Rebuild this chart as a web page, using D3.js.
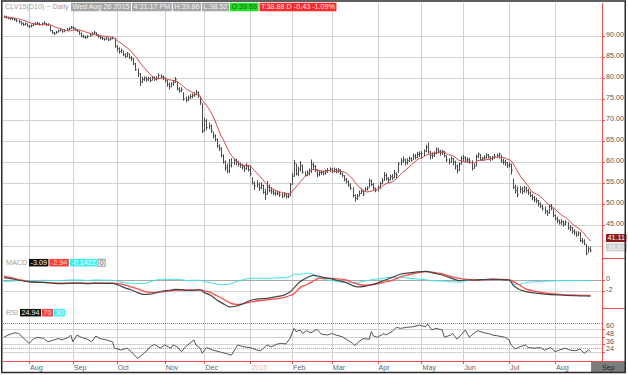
<!DOCTYPE html>
<html><head><meta charset="utf-8">
<script src="https://cdn.jsdelivr.net/npm/d3@7"></script>
<style>body{margin:0;background:#fff;}svg{display:block;font-family:"Liberation Sans",Arial,sans-serif;}</style>
</head><body><svg id="c" width="628" height="375"></svg>
<script>
// ---------- DATA ----------
const closes=[
94.6,94.4,94.3,94.1,94.2,93.9,93.6,93.4,93.0,92.7,
92.9,92.4,92.2,92.5,92.8,92.9,93.0,92.7,92.9,93.0,
92.6,92.8,91.3,90.8,90.6,90.9,91.2,91.5,91.0,91.3,
91.6,91.8,92.0,91.9,91.4,91.2,90.6,90.0,89.8,89.6,
89.9,90.2,90.5,90.8,90.3,89.9,89.6,89.4,89.2,89.5,
89.1,89.3,89.6,87.5,87.0,86.3,86.6,85.6,85.2,85.8,
84.9,84.6,83.4,82.0,81.0,79.0,79.6,80.0,79.6,79.9,
79.4,80.1,79.7,80.0,80.6,80.3,80.0,79.5,78.4,77.9,
78.6,79.0,79.6,77.4,77.0,77.2,75.0,74.8,75.3,75.6,
75.8,76.1,76.6,75.9,74.2,67.4,69.8,68.2,68.6,67.4,
66.2,65.4,63.8,63.3,61.5,60.0,58.6,57.9,59.2,59.8,
60.3,59.9,59.5,59.3,58.8,58.4,59.0,58.2,57.2,55.0,
54.4,54.7,53.8,54.4,52.8,52.3,54.0,53.2,52.9,52.6,
52.4,52.6,52.2,51.9,52.3,51.8,51.9,54.6,56.6,59.6,
57.2,58.3,59.1,57.6,56.9,57.3,57.9,59.4,59.0,58.2,
57.0,57.5,57.5,57.2,57.8,58.0,58.3,57.8,58.2,57.9,
58.1,57.2,56.8,55.8,55.3,54.5,53.8,52.0,51.3,51.8,
52.5,53.0,52.4,53.5,53.8,55.5,54.6,53.8,53.2,54.0,
54.8,55.5,56.8,56.0,55.8,56.5,56.2,57.2,56.9,59.5,
60.2,60.5,59.8,60.3,60.8,60.4,61.4,61.0,61.8,62.0,
62.0,62.6,63.5,62.4,61.6,61.5,62.0,63.0,62.6,62.2,
62.5,61.5,60.5,60.0,60.8,60.0,59.0,58.0,59.5,60.8,
61.0,60.5,60.5,60.2,58.5,59.0,61.3,61.8,60.6,60.9,
61.0,61.6,61.2,60.8,61.0,61.4,61.6,61.9,60.2,60.0,
59.8,59.2,59.5,58.0,54.0,53.2,52.3,53.5,53.0,53.8,
53.2,52.8,52.0,51.5,51.0,50.8,50.0,49.5,49.0,48.3,
47.9,49.4,49.0,47.2,46.5,46.0,45.5,45.8,45.2,45.6,
44.3,44.4,43.5,43.3,42.6,43.1,41.3,41.1,40.5,38.2,
39.3,38.88];
const highs=[
94.9,94.8,94.6,94.5,94.4,94.3,94.0,93.8,93.5,93.2,
93.2,93.0,92.6,92.8,93.1,93.3,93.4,93.2,93.2,93.5,
93.1,93.0,92.6,91.4,91.0,91.2,91.5,91.8,91.6,91.6,
91.9,92.1,92.4,92.3,92.0,91.6,91.3,90.8,90.3,90.1,
90.2,90.5,90.9,91.2,90.9,90.4,90.0,89.8,89.6,89.8,
89.6,89.6,89.9,89.6,87.8,87.3,87.0,86.5,85.9,86.2,
85.8,85.2,84.7,83.6,82.3,81.2,80.3,80.4,80.3,80.3,
80.2,80.5,80.4,80.4,81.1,80.9,80.6,80.2,79.6,78.9,
79.0,79.4,80.2,79.2,77.8,77.8,76.6,75.6,75.8,76.2,
76.3,76.6,77.1,76.8,75.6,74.0,70.6,70.2,69.4,68.9,
67.2,66.6,65.6,64.2,63.5,61.8,60.4,59.6,60.7,60.9,
60.9,60.8,60.2,59.9,59.6,59.2,59.7,59.3,59.2,56.4,
55.4,55.6,55.1,55.2,54.6,53.6,55.5,54.6,54.0,53.5,
53.2,53.1,52.9,52.6,52.8,52.6,52.6,55.0,57.4,60.5,
59.6,58.9,60.2,59.4,57.8,58.0,58.4,60.6,59.9,59.3,
58.3,58.0,58.0,57.9,58.2,58.6,58.7,58.6,58.7,58.5,
58.6,58.3,57.5,56.9,56.2,55.6,54.9,54.0,52.3,52.4,
53.2,53.7,53.4,54.0,54.2,56.1,55.8,55.0,53.9,54.4,
55.3,56.2,57.6,57.3,56.4,57.0,57.1,58.1,57.6,60.0,
60.9,61.3,60.8,60.9,61.3,61.1,62.0,61.9,62.4,62.5,
62.6,63.0,64.1,64.6,62.7,62.3,62.5,63.5,63.3,62.9,
62.9,62.6,61.6,60.9,61.3,61.0,60.3,59.4,59.9,61.4,
61.7,61.4,61.1,61.0,60.4,59.6,61.8,62.3,61.9,61.2,
61.6,62.1,61.9,61.4,61.5,61.9,62.0,62.2,61.7,60.8,
60.5,60.0,59.9,59.6,56.0,54.6,54.2,54.3,54.1,54.3,
54.1,53.6,53.0,52.4,51.9,51.5,51.0,50.4,49.8,49.4,
48.6,49.8,50.0,48.9,47.5,47.0,46.3,46.4,46.0,46.1,
45.7,45.0,44.6,44.0,43.5,43.5,43.3,41.9,41.6,40.4,
39.9,39.86];
const lows=[
94.3,94.1,94.0,93.8,93.8,93.6,93.3,93.0,92.6,92.4,
92.5,92.2,91.9,92.1,92.4,92.6,92.7,92.5,92.5,92.8,
92.4,92.4,91.1,90.5,90.2,90.5,90.8,91.1,90.8,90.9,
91.2,91.4,91.7,91.5,91.2,90.9,90.3,89.7,89.5,89.3,
89.5,89.8,90.1,90.4,90.0,89.6,89.2,89.0,88.9,89.1,
88.8,88.9,89.2,87.2,86.3,85.8,85.9,85.2,84.7,85.0,
84.5,84.0,83.0,81.7,80.2,78.1,78.8,79.3,79.1,79.3,
79.0,79.4,79.3,79.4,79.8,79.9,79.5,78.9,77.9,77.3,
77.8,78.2,78.8,77.0,76.5,76.6,74.6,74.2,74.5,75.0,
75.2,75.5,75.9,75.3,73.6,66.9,67.2,67.6,67.8,66.9,
65.6,64.9,63.4,62.6,61.1,59.6,57.9,57.3,57.4,58.7,
59.3,59.2,58.9,58.6,58.2,57.6,58.1,57.7,56.6,54.6,
53.4,53.9,53.1,53.5,52.4,51.0,52.2,52.8,52.4,52.1,
52.0,52.1,51.7,51.4,51.6,51.3,51.4,51.8,54.6,56.5,
56.8,56.6,57.7,57.2,56.5,56.6,56.8,57.4,58.2,57.6,
56.4,56.6,56.9,56.8,57.0,57.4,57.6,57.3,57.5,57.3,
57.4,56.9,56.4,55.4,54.9,54.1,53.4,51.6,50.6,51.0,
51.8,52.4,51.9,52.8,53.2,53.9,54.3,53.3,52.8,53.0,
53.6,54.7,55.5,55.6,55.0,55.6,55.7,56.1,56.1,57.4,
59.2,59.8,59.2,59.4,60.0,60.1,60.5,60.6,60.9,61.2,
60.8,61.4,62.3,62.0,60.6,60.8,61.2,61.8,62.0,61.5,
61.7,61.1,60.0,59.4,59.8,59.2,58.2,57.3,57.9,59.4,
60.2,60.0,59.8,59.6,58.0,58.4,59.0,60.9,60.3,60.2,
60.4,60.8,60.8,60.2,60.4,60.7,61.0,60.8,59.8,59.4,
59.1,58.6,58.7,57.0,53.6,52.5,51.6,52.6,52.3,52.7,
52.7,52.1,51.6,50.9,50.4,50.2,49.4,49.0,48.4,47.6,
47.1,47.7,48.5,46.9,46.1,45.4,45.1,45.0,44.6,44.9,
43.9,43.5,42.9,42.6,42.2,42.4,40.9,40.6,40.2,37.8,
38.4,38.52];
const maPeriod=10;

const monthIdx=[12,33,54,77,96,118,138,157,179,200,220,242,264];
const monthLbl=["Aug","Sep","Oct","Nov","Dec","2015","Feb","Mar","Apr","May","Jun","Jul","Aug"];
const nextMonthLbl="Sep";
const priceGrid=[90,85,80,75,70,65,60,55,50,45,40];
const priceTicks=[90,85,80,75,70,65,60,55,50,45];

const macdIdx=[0,4,8,12,16,20,24,28,32,36,40,44,48,52,55,58,61,64,67,70,73,76,79,82,85,88,91,94,96,99,102,105,108,111,114,118,122,126,130,134,137,139,142,145,148,151,154,157,160,164,168,171,174,178,182,186,190,194,198,202,206,210,214,218,222,226,230,234,238,242,244,246,250,254,258,262,266,270,274,278,281];
const macdVals=[0.45,0.2,-0.1,-0.35,-0.45,-0.5,-0.65,-0.7,-0.6,-0.6,-0.7,-0.6,-0.65,-0.65,-1.0,-1.5,-1.9,-2.4,-2.75,-2.7,-2.4,-2.1,-2.0,-1.8,-1.85,-2.0,-1.95,-1.9,-2.4,-2.9,-3.8,-4.5,-5.1,-5.0,-4.6,-3.9,-3.6,-3.5,-3.2,-2.9,-2.3,-1.5,-0.3,0.4,0.9,0.7,0.4,0.2,-0.1,-0.5,-1.2,-1.3,-1.1,-0.7,-0.1,0.5,1.1,1.35,1.55,1.65,1.3,0.95,0.4,-0.1,0.0,0.0,0.1,0.15,0.1,0.0,-1.0,-1.6,-2.2,-2.45,-2.65,-2.8,-2.85,-2.95,-3.0,-3.05,-3.09];
const signalVals=[0.75,0.4,0.0,-0.25,-0.35,-0.45,-0.55,-0.6,-0.62,-0.6,-0.62,-0.62,-0.62,-0.6,-0.7,-0.95,-1.3,-1.7,-2.1,-2.35,-2.4,-2.25,-2.1,-1.95,-1.9,-1.9,-1.9,-1.85,-2.05,-2.4,-3.0,-3.6,-4.3,-4.65,-4.6,-4.2,-3.95,-3.8,-3.6,-3.35,-2.95,-2.6,-1.4,-0.9,-0.25,0.3,0.35,0.32,0.2,0.0,-0.6,-0.95,-1.0,-0.85,-0.45,-0.05,0.6,1.0,1.35,1.6,1.45,1.15,0.7,0.3,0.1,0.0,0.05,0.1,0.1,0.05,-0.3,-0.7,-1.7,-2.1,-2.4,-2.6,-2.73,-2.82,-2.88,-2.92,-2.94];
const histVals=[-0.3,-0.2,-0.1,-0.1,-0.1,-0.05,-0.1,-0.1,0.02,0.0,-0.08,0.02,-0.03,-0.05,-0.3,-0.55,-0.6,-0.7,-0.65,-0.35,0.0,0.15,0.1,0.15,0.05,-0.1,-0.05,-0.05,-0.35,-0.5,-0.8,-0.9,-0.8,-0.35,0.0,0.3,0.35,0.3,0.4,0.45,0.65,1.1,1.1,1.3,1.15,0.4,0.05,-0.12,-0.3,-0.5,-0.6,-0.35,-0.1,0.15,0.35,0.55,0.5,0.35,0.2,0.05,-0.15,-0.2,-0.3,-0.4,-0.1,0.0,0.05,0.05,0.0,-0.05,-0.7,-0.9,-0.5,-0.35,-0.25,-0.2,-0.12,-0.13,-0.12,-0.13,-0.14];
const macdTicks=[0,-2];

const rsiIdx=[0,2,5,7,9,12,14,16,19,21,24,26,28,31,32,33,35,37,40,42,44,46,49,52,53,56,59,61,64,66,68,70,72,75,77,80,81,83,85,87,91,92,94,95,97,100,103,107,109,111,112,115,118,121,123,126,128,131,133,135,137,139,140,142,143,145,147,150,152,155,157,159,162,164,167,168,170,172,175,176,177,179,182,183,186,188,190,193,196,199,202,203,205,207,210,211,214,215,217,219,221,223,225,227,230,232,234,237,240,242,243,245,247,250,251,254,257,259,262,264,266,269,271,274,276,278,280,281];
const rsiVals=[47,50.6,54,53,47,37.6,44,47,45.4,40,42.8,45,43,47,50.6,40,50.6,47,44,40,49,45,43,40,30,27,30,24.5,14,19,24.5,32,36,30,35,30,35,32,24.5,32,43,35,30,22,31,27,24.5,21,19,30,35,32,31,27,26,35,32,36.5,37.6,36.5,45,61,56,58.4,53,57.4,54,59.5,52,50.6,53,50.6,48,44,37.6,34,40,45,44,56,49,47,53,50.6,56,62.6,61,62.6,63.6,66,63.6,67.8,58.4,61,58.4,47,50.6,53,44,50.6,58.4,47,53,57.4,54,53,50.6,49,47,43,35,28.7,32,35,31,30,31,27,31,24.5,27,30,27,26,28.7,22,27,24.94];
const rsiTicks=[60,48,36,24];
const rsiOB=70, rsiOS=30;

const title="CLV15(D10) ~ Daily";
const headBoxes=[["Wed Aug 26 2015","#a6a6a6","#f2f2f2"],["4:31:17 PM","#a6a6a6","#f2f2f2"],["H:39.86","#a6a6a6","#f2f2f2"],["L:38.52","#a6a6a6","#f2f2f2"],["O:39.69","#22e022","#1a5a1a"],["T:38.88 D -0.43 -1.09%","#ff2a2a","#ffe8e8"]];
const macdHead=["-3.09","-2.94","-0.1422","0"];
const rsiHead=["24.94","70","30"];
const lastMA=41.11, lastPrice=38.88;

// ---------- DRAW ----------
const svg=d3.select("#c");
const L=3,R=602,T=3,B=361;
const x=d3.scaleLinear().domain([12,264]).range([29,555]);
const yP=d3.scaleLinear().domain([90,45]).range([36,225]);
const yM=d3.scaleLinear().domain([0,-2]).range([280,290.5]);
const yR=d3.scaleLinear().domain([60,24]).range([329,352]);
const cr=v=>Math.round(v)+0.5;
const RED="#f24a4a", GRID="#d2d2d2", FS=7.2;

svg.append("rect").attr("width",628).attr("height",375).attr("fill","#fff");
const defs=svg.append("defs");
defs.append("clipPath").attr("id","cp").append("rect").attr("x",L).attr("y",T).attr("width",R-L).attr("height",258-T);
defs.append("clipPath").attr("id","cm").append("rect").attr("x",L).attr("y",258).attr("width",R-L).attr("height",50);
defs.append("clipPath").attr("id","crs").append("rect").attr("x",L).attr("y",308).attr("width",R-L).attr("height",B-308);

// grid
const grid=svg.append("g");
grid.selectAll(".vg").data(monthIdx).join("line").attr("class","vg")
  .attr("x1",d=>cr(x(d))).attr("x2",d=>cr(x(d))).attr("y1",T).attr("y2",B).attr("stroke",GRID);
grid.selectAll(".pg").data(priceGrid).join("line").attr("class","pg")
  .attr("x1",L).attr("x2",R).attr("y1",d=>cr(yP(d))).attr("y2",d=>cr(yP(d))).attr("stroke",GRID);
grid.selectAll(".mg").data(macdTicks).join("line").attr("class","mg")
  .attr("x1",L).attr("x2",R).attr("y1",d=>cr(yM(d))).attr("y2",d=>cr(yM(d))).attr("stroke",d=>d===0?"#a8a8a8":GRID);
grid.selectAll(".rg").data(rsiTicks).join("line").attr("class","rg")
  .attr("x1",L).attr("x2",R).attr("y1",d=>cr(yR(d))).attr("y2",d=>cr(yR(d))).attr("stroke",GRID);
grid.append("line").attr("x1",L).attr("x2",R).attr("y1",cr(yR(rsiOB))).attr("y2",cr(yR(rsiOB))).attr("stroke","#ff4a4a").attr("stroke-dasharray","1,1").attr("shape-rendering","crispEdges");
grid.append("line").attr("x1",L).attr("x2",R).attr("y1",cr(yR(rsiOS))).attr("y2",cr(yR(rsiOS))).attr("stroke","#30dede").attr("stroke-dasharray","1,1").attr("shape-rendering","crispEdges");

// price bars
const pg=svg.append("g").attr("clip-path","url(#cp)");
const idx=d3.range(closes.length);
pg.append("path").attr("fill","none").attr("stroke","#4a4a4a").attr("stroke-width",1)
  .attr("d",idx.map(i=>{const xx=cr(x(i));return `M${xx},${yP(highs[i])}V${yP(lows[i])}M${xx},${yP(closes[i])}h1.2`;}).join(""));
// moving average
const ma=idx.map(i=>{const s=closes.slice(Math.max(0,i-maPeriod+1),i+1);return d3.mean(s);});
pg.append("path").datum(idx).attr("fill","none").attr("stroke","#d24848").attr("stroke-width",1)
  .attr("d",d3.line().x(i=>x(i)).y(i=>yP(ma[i])));

// MACD
const mg=svg.append("g").attr("clip-path","url(#cm)");
const mline=arr=>d3.line().x((d,k)=>x(macdIdx[k])).y(d=>yM(d)).curve(d3.curveMonotoneX)(arr);
mg.append("path").attr("d",mline(histVals)).attr("fill","none").attr("stroke","#3fe3e3").attr("stroke-width",1);
mg.append("path").attr("d",mline(signalVals)).attr("fill","none").attr("stroke","#ff4a4a").attr("stroke-width",1.3);
mg.append("path").attr("d",mline(macdVals)).attr("fill","none").attr("stroke","#444").attr("stroke-width",1.2);

// RSI
const rg=svg.append("g").attr("clip-path","url(#crs)");
rg.append("path").attr("d",d3.line().x((d,k)=>x(rsiIdx[k])).y(d=>yR(d))(rsiVals)).attr("fill","none").attr("stroke","#555").attr("stroke-width",1);

// red axis lines
svg.append("line").attr("x1",R+0.5).attr("x2",R+0.5).attr("y1",T).attr("y2",B).attr("stroke",RED);
svg.append("line").attr("x1",L).attr("x2",625).attr("y1",B+0.5).attr("y2",B+0.5).attr("stroke",RED);
[258,308].forEach(v=>svg.append("line").attr("x1",R).attr("x2",625).attr("y1",v+0.5).attr("y2",v+0.5).attr("stroke",RED));

// right labels
const ax=svg.append("g").attr("font-size",FS).attr("fill","#555");
function rlab(data,sc,dy,fmt){
  data.forEach(v=>{
    ax.append("line").attr("x1",R).attr("x2",R+3).attr("y1",cr(sc(v))).attr("y2",cr(sc(v))).attr("stroke",RED);
    ax.append("text").attr("x",606).attr("y",sc(v)+dy).text(fmt(v));
  });
}
rlab(priceTicks,yP,1.2,v=>v.toFixed(2));
rlab(macdTicks,yM,1.2,v=>String(v));
rlab(rsiTicks,yR,-0.8,v=>String(v));

function tbox(parent,x0,yMid,txt,bg,fg,h,stroke){
  const g=parent.append("g");
  const t=g.append("text").attr("x",x0+1.5).attr("y",yMid+2.4).attr("font-size",FS).attr("fill",fg).text(txt);
  const w=t.node().getComputedTextLength()+3;
  g.insert("rect","text").attr("x",x0).attr("y",yMid-h/2).attr("width",w).attr("height",h).attr("fill",bg).attr("stroke",stroke||"none");
  return x0+w;
}
// last value boxes
tbox(svg,606,yP(lastMA)-3.3,lastMA.toFixed(2),"#8f1c1c","#fff",8);
tbox(svg,606,yP(lastPrice)-3.3,lastPrice.toFixed(2),"#cfcfcf","#f7f7f7",8);

// title
svg.append("text").attr("x",5).attr("y",9.4).attr("font-size",FS).attr("fill","#a0a0a0").text(title);
let hx=71;
headBoxes.forEach(b=>{hx=tbox(svg,hx,7,b[0],b[1],b[2],8.5)+1;});

// MACD header
svg.append("text").attr("x",6).attr("y",265.2).attr("font-size",FS).attr("fill","#a0a0a0").text("MACD");
let mx=29;
mx=tbox(svg,mx,262.7,macdHead[0],"#111","#f0f0f0",7.5)+1;
mx=tbox(svg,mx,262.7,macdHead[1],"#ff3a3a","#ffdede",7.5)+1;
mx=tbox(svg,mx,262.7,macdHead[2],"#3ff0f0","#f4ffff",7.5)+1;
tbox(svg,mx,262.7,macdHead[3],"#f2f2f2","#666",7,"#999");

// RSI header
svg.append("text").attr("x",6).attr("y",315.2).attr("font-size",FS).attr("fill","#a0a0a0").text("RSI");
let rx=20;
rx=tbox(svg,rx,312.7,rsiHead[0],"#111","#f0f0f0",7.5)+1;
rx=tbox(svg,rx,312.7,rsiHead[1],"#ff3a3a","#ffdede",7.5)+1;
tbox(svg,rx,312.7,rsiHead[2],"#3ff0f0","#f4ffff",7.5);

// x axis
const xa=svg.append("g").attr("font-size",FS);
xa.selectAll(".mt").data(monthIdx).join("line").attr("class","mt")
  .attr("x1",d=>cr(x(d))).attr("x2",d=>cr(x(d))).attr("y1",B).attr("y2",B+3).attr("stroke",RED);
xa.selectAll(".ml").data(monthIdx).join("text").attr("class","ml")
  .attr("x",d=>x(d)+1).attr("y",369.5).attr("fill",(d,k)=>monthLbl[k]==="2015"?"#f3b49c":"#666").text((d,k)=>monthLbl[k]);
svg.append("rect").attr("x",x(closes.length)-1.5).attr("y",362).attr("width",625-x(closes.length)+1.5).attr("height",10).attr("fill","#7d7d7d");
svg.append("text").attr("x",602).attr("y",369.5).attr("font-size",FS).attr("fill","#2a2a2a").text(nextMonthLbl);

// frame
svg.append("rect").attr("x",1.75).attr("y",1).attr("width",623.5).attr("height",371.5).attr("fill","none").attr("stroke","#2b2b2b").attr("stroke-width",1.5);
</script></body></html>
